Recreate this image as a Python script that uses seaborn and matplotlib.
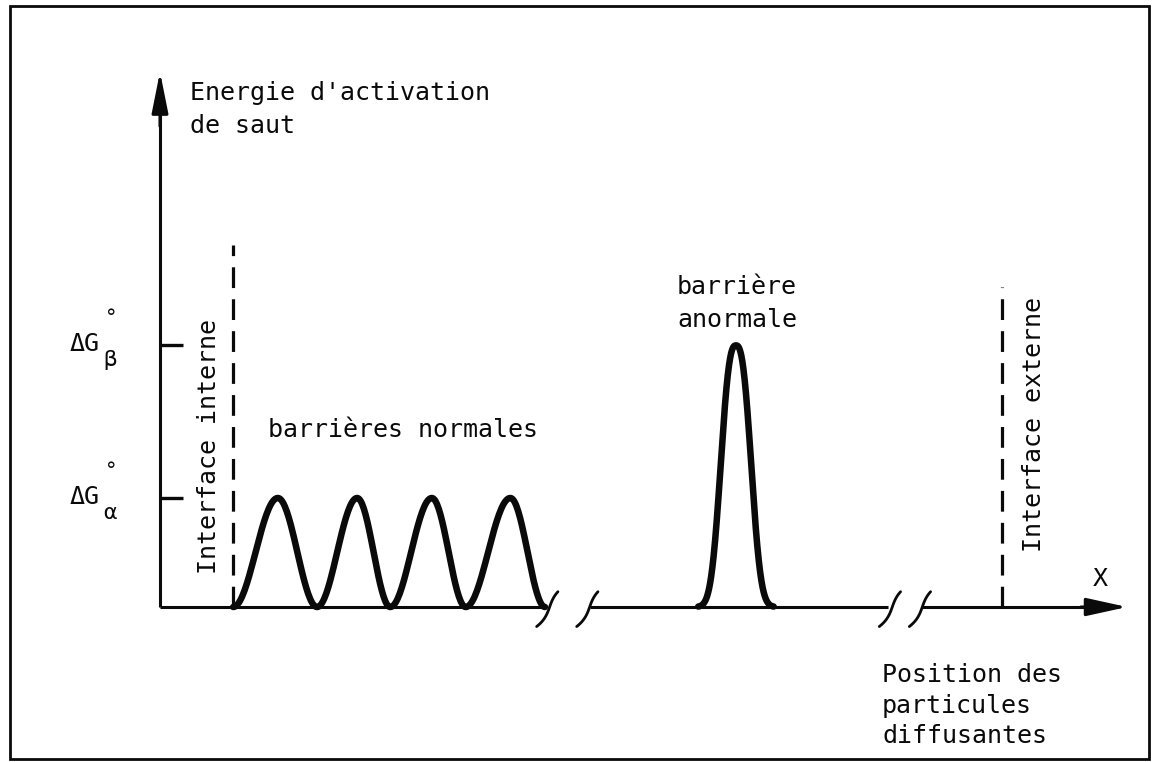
import numpy as np
import matplotlib
matplotlib.use("Agg")
import matplotlib.pyplot as plt
import seaborn as sns
from matplotlib.patches import Rectangle

# ---------------- data (schematic values) ----------------
energy_names = ["α", "β"]                 # ΔG°α, ΔG°β
energy_levels = [1.0, 2.4]                # activation energy levels (ΔG°α = 1)
normal_minima = [0.95, 2.04, 2.99, 3.97, 5.0]   # feet of the normal barriers
normal_peaks = [1.53, 2.56, 3.53, 4.55]          # tops of the normal barriers
anomal_center = 7.48                      # abnormal barrier position
anomal_width = 0.24                       # width of abnormal barrier
anomal_halfspan = 0.49
interface_pos = [0.95, 10.94]             # internal / external interface
interface_top = [3.32, 2.94]
interface_labels = ["Interface interne", "Interface externe"]
axis_breaks = [(5.0, 5.58), (9.45, 9.9)]  # gaps in the x axis
x_axis_end = 12.56
y_axis_end = 4.91

# ---------------- layout helpers (pixel <-> data) ----------------
W, H = 1153, 762
X0, Y0 = 160.0, 607.0       # pixel position of the origin
SX, SY = 77.0, 109.0        # pixels per data unit


def px(x):
    return (x - X0) / SX


def py(y):
    return (Y0 - y) / SY


sns.set_theme(style="white")
plt.rcParams["font.family"] = ["DejaVu Sans Mono", "DejaVu Sans"]

fig = plt.figure(figsize=(W / 100, H / 100), dpi=100)
ax = fig.add_axes([0, 0, 1, 1])
ax.set_xlim(-X0 / SX, (W - X0) / SX)
ax.set_ylim(-(H - Y0) / SY, Y0 / SY)
ax.axis("off")

K = "#0a0a0a"
FS = 18

# frame of the figure
fig.patches.append(Rectangle((10 / W, 3 / H), 1139 / W, 753 / H, transform=fig.transFigure,
                             fill=False, lw=2.0, edgecolor=K))

# ---------------- axes (broken x axis with arrows) ----------------
seg_starts = [0.0] + [b[1] for b in axis_breaks]
seg_ends = [b[0] for b in axis_breaks] + [x_axis_end - 0.3]
for a, b in zip(seg_starts, seg_ends):
    ax.plot([a, b], [0, 0], color=K, lw=2.2, solid_capstyle="butt")
ax.annotate("", xy=(x_axis_end, 0), xytext=(x_axis_end - 0.6, 0),
            arrowprops=dict(arrowstyle="-|>,head_length=2.5,head_width=0.55",
                            mutation_scale=10, color=K, lw=2.2, shrinkA=0, shrinkB=0))
ax.plot([0, 0], [0, y_axis_end - 0.2], color=K, lw=2.2, solid_capstyle="butt")
ax.annotate("", xy=(0, y_axis_end), xytext=(0, y_axis_end - 0.5),
            arrowprops=dict(arrowstyle="-|>,head_length=2.5,head_width=0.5",
                            mutation_scale=10, color=K, lw=2.2, shrinkA=0, shrinkB=0))

# break marks
s = np.linspace(-1.15, 0.9, 40)
bx = (6 * s + 4 * s ** 3) / SX
by = (17 * s) / SY
for a, b in axis_breaks:
    for xc in (a + 0.06, b + 0.0):
        ax.plot(xc + bx, by, color=K, lw=2.0, solid_capstyle="round")

# energy ticks and labels
for name, lvl in zip(energy_names, energy_levels):
    ax.plot([0, px(183)], [lvl, lvl], color=K, lw=2.4, solid_capstyle="butt")
    ax.text(px(100), lvl - 6 / SY, "ΔG", fontsize=FS, ha="right", va="baseline", color=K)
    ax.text(px(111), lvl + 27 / SY, "°", fontsize=15, ha="center", va="center", color=K)
    ax.text(px(110), lvl - 15 / SY, name, fontsize=16, ha="center", va="center", color=K)

# interfaces (dashed)
for xi, top in zip(interface_pos, interface_top):
    ax.plot([xi, xi], [0, top], color=K, lw=2.3, dashes=(6.5, 3.5))
ax.text(px(216), py(446), interface_labels[0], rotation=90, rotation_mode="anchor",
        ha="center", va="baseline", fontsize=FS, color=K)
ax.text(px(1041), py(425), interface_labels[1], rotation=90, rotation_mode="anchor",
        ha="center", va="baseline", fontsize=FS, color=K)

# ---------------- barriers ----------------
xs, ys = [], []
h = energy_levels[0]
for i, p in enumerate(normal_peaks):
    l, r = normal_minima[i], normal_minima[i + 1]
    t1 = np.linspace(0, 1, 40)
    xs += list(l + (p - l) * t1)
    ys += list(h * (1 - np.cos(np.pi * t1)) / 2)
    xs += list(p + (r - p) * t1[1:])
    ys += list(h * (1 + np.cos(np.pi * t1[1:])) / 2)
sns.lineplot(x=xs, y=ys, ax=ax, sort=False, estimator=None, color=K, lw=4.7)

xa = np.linspace(anomal_center - anomal_halfspan, anomal_center + anomal_halfspan, 300)
ya = energy_levels[1] * np.exp(-(np.abs(xa - anomal_center) / anomal_width) ** 2.6)
sns.lineplot(x=xa, y=ya, ax=ax, sort=False, estimator=None, color=K, lw=4.7)

# ---------------- texts ----------------
for line, yb in zip(["Energie d'activation", "de saut"], [100, 133]):
    ax.text(px(190), py(yb), line, fontsize=FS, ha="left", va="baseline", color=K)
ax.text(px(268), py(437), "barrières normales", fontsize=FS, ha="left", va="baseline", color=K)
for line, yb in zip(["barrière", "anormale"], [294, 327]):
    ax.text(px(737), py(yb), line, fontsize=FS, ha="center", va="baseline", color=K)
for line, yb in zip(["Position des", "particules", "diffusantes"], [682, 713, 743]):
    ax.text(px(882), py(yb), line, fontsize=FS, ha="left", va="baseline", color=K)
ax.text(px(1100), py(579), "X", fontsize=FS, ha="center", va="center", color=K)

fig.savefig("out.png", dpi=100)
